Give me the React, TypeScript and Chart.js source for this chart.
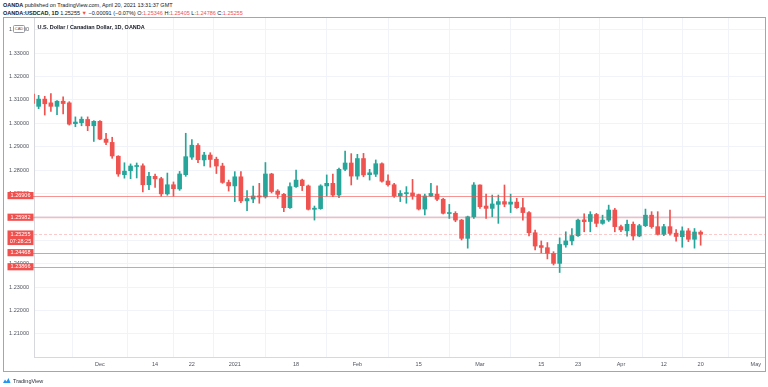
import React, { useEffect, useRef } from 'react';
import { Chart, registerables } from 'chart.js';
Chart.register(...registerables);

const FONT = "'Liberation Sans', Arial, sans-serif";

const dates = [
  '2020-11-16','2020-11-17','2020-11-18','2020-11-19','2020-11-20','2020-11-23','2020-11-24','2020-11-25','2020-11-26','2020-11-27','2020-11-30',
  '2020-12-01','2020-12-02','2020-12-03','2020-12-04','2020-12-07','2020-12-08','2020-12-09','2020-12-10','2020-12-11','2020-12-14','2020-12-15',
  '2020-12-16','2020-12-17','2020-12-18','2020-12-21','2020-12-22','2020-12-23','2020-12-24','2020-12-28','2020-12-29','2020-12-30','2020-12-31',
  '2021-01-04','2021-01-05','2021-01-06','2021-01-07','2021-01-08','2021-01-11','2021-01-12','2021-01-13','2021-01-14','2021-01-15','2021-01-18',
  '2021-01-19','2021-01-20','2021-01-21','2021-01-22','2021-01-25','2021-01-26','2021-01-27','2021-01-28','2021-01-29',
  '2021-02-01','2021-02-02','2021-02-03','2021-02-04','2021-02-05','2021-02-08','2021-02-09','2021-02-10','2021-02-11','2021-02-12',
  '2021-02-15','2021-02-16','2021-02-17','2021-02-18','2021-02-19','2021-02-22','2021-02-23','2021-02-24','2021-02-25','2021-02-26',
  '2021-03-01','2021-03-02','2021-03-03','2021-03-04','2021-03-05','2021-03-08','2021-03-09','2021-03-10','2021-03-11','2021-03-12',
  '2021-03-15','2021-03-16','2021-03-17','2021-03-18','2021-03-19','2021-03-22','2021-03-23','2021-03-24','2021-03-25','2021-03-26',
  '2021-03-29','2021-03-30','2021-03-31',
  '2021-04-01','2021-04-02','2021-04-05','2021-04-06','2021-04-07','2021-04-08','2021-04-09','2021-04-12','2021-04-13','2021-04-14',
  '2021-04-15','2021-04-16','2021-04-19','2021-04-20',
];

const opens = [
  1.3125,1.3072,1.3103,1.3087,1.3072,1.3094,1.3087,1.2998,1.3002,1.3016,1.2989,
  1.3008,1.2932,1.2918,1.2859,1.2780,1.2797,1.2815,1.2818,1.2737,1.2773,1.2763,
  1.2698,1.2737,1.2719,1.2780,1.2855,1.2905,1.2843,1.2864,1.2846,1.2817,1.2747,
  1.2732,1.2771,1.2668,1.2676,1.2689,1.2685,1.2783,1.2710,1.2696,1.2639,1.2729,
  1.2757,1.2732,1.2632,1.2635,1.2732,1.2743,1.2693,1.2803,1.2830,
  1.2774,1.2849,1.2780,1.2782,1.2827,1.2753,1.2737,1.2689,1.2699,1.2702,
  1.2695,1.2633,1.2689,1.2697,1.2675,1.2614,1.2615,1.2586,1.2508,1.2600,
  1.2736,1.2646,1.2636,1.2653,1.2665,1.2654,1.2663,1.2639,1.2618,1.2532,
  1.2477,1.2468,1.2444,1.2401,1.2480,1.2497,1.2519,1.2587,1.2580,1.2610,
  1.2572,1.2586,1.2629,
  1.2558,1.2540,1.2568,1.2518,1.2562,1.2607,1.2558,1.2525,1.2558,1.2530,
  1.2515,1.2540,1.2504,1.25346,
];
const highs = [
  1.3137,1.3119,1.3115,1.3127,1.3097,1.3113,1.3092,1.3027,1.3027,1.3027,1.3011,
  1.3011,1.2957,1.2940,1.2861,1.2831,1.2826,1.2830,1.2826,1.2790,1.2783,1.2769,
  1.2787,1.2749,1.2794,1.2957,1.2930,1.2913,1.2876,1.2874,1.2855,1.2829,1.2757,
  1.2793,1.2793,1.2712,1.2731,1.2743,1.2832,1.2786,1.2716,1.2700,1.2745,1.2800,
  1.2761,1.2736,1.2646,1.2737,1.2779,1.2783,1.2808,1.2881,1.2870,
  1.2867,1.2871,1.2803,1.2843,1.2831,1.2779,1.2743,1.2712,1.2729,1.2760,
  1.2697,1.2697,1.2743,1.2732,1.2679,1.2653,1.2622,1.2589,1.2603,1.2746,
  1.2737,1.2697,1.2693,1.2693,1.2736,1.2697,1.2679,1.2679,1.2622,1.2543,
  1.2497,1.2490,1.2451,1.2510,1.2536,1.2550,1.2590,1.2613,1.2622,1.2615,
  1.2607,1.2650,1.2636,
  1.2565,1.2586,1.2578,1.2568,1.2633,1.2622,1.2622,1.2568,1.2629,1.2545,
  1.2557,1.2550,1.2550,1.25405,
];
const lows = [
  1.3072,1.3062,1.3035,1.3050,1.3036,1.3040,1.2992,1.2985,1.2989,1.2968,1.2922,
  1.2930,1.2908,1.2850,1.2773,1.2765,1.2763,1.2766,1.2706,1.2716,1.2726,1.2688,
  1.2692,1.2688,1.2713,1.2773,1.2845,1.2831,1.2818,1.2812,1.2785,1.2743,1.2710,
  1.2665,1.2660,1.2626,1.2660,1.2658,1.2680,1.2702,1.2679,1.2622,1.2636,1.2726,
  1.2712,1.2629,1.2586,1.2632,1.2689,1.2686,1.2682,1.2797,1.2736,
  1.2760,1.2771,1.2757,1.2772,1.2748,1.2731,1.2683,1.2665,1.2658,1.2675,
  1.2629,1.2608,1.2686,1.2669,1.2612,1.2593,1.2579,1.2501,1.2466,1.2593,
  1.2636,1.2593,1.2600,1.2572,1.2643,1.2618,1.2636,1.2586,1.2518,1.2458,
  1.2446,1.2420,1.2394,1.2362,1.2470,1.2480,1.2516,1.2536,1.2536,1.2558,
  1.2568,1.2580,1.2536,
  1.2536,1.2517,1.2501,1.2515,1.2558,1.2551,1.2522,1.2519,1.2522,1.2496,
  1.2470,1.2494,1.2466,1.24786,
];
const closes = [
  1.3085,1.3103,1.3083,1.3072,1.3094,1.3084,1.2996,1.3005,1.3017,1.2989,1.3008,
  1.2932,1.2918,1.2860,1.2783,1.2795,1.2817,1.2818,1.2737,1.2773,1.2762,1.2698,
  1.2737,1.2720,1.2783,1.2857,1.2906,1.2844,1.2864,1.2845,1.2817,1.2747,1.2732,
  1.2771,1.2668,1.2678,1.2689,1.2685,1.2783,1.2708,1.2696,1.2639,1.2729,1.2757,
  1.2733,1.2632,1.2637,1.2732,1.2743,1.2693,1.2803,1.2830,1.2774,
  1.2849,1.2779,1.2788,1.2827,1.2752,1.2737,1.2689,1.2700,1.2703,1.2690,
  1.2633,1.2689,1.2700,1.2675,1.2615,1.2618,1.2586,1.2508,1.2600,1.2736,
  1.2643,1.2636,1.2655,1.2665,1.2654,1.2663,1.2639,1.2618,1.2532,1.2475,
  1.2469,1.2444,1.2401,1.2482,1.2497,1.2520,1.2586,1.2579,1.2610,1.2572,
  1.2586,1.2629,1.2558,
  1.2544,1.2568,1.2518,1.2562,1.2607,1.2558,1.2525,1.2558,1.2529,1.2516,
  1.2540,1.2504,1.2535,1.25255,
];

const xTickIndex = [11, 20, 26, 33, 43, 53, 63, 73, 83, 89, 96, 103, 109, 118];
const xTickLabels = ['Dec', '14', '22', '2021', '18', 'Feb', '15', 'Mar', '15', '23', 'Apr', '12', '20', 'May'];
const yTicks = [1.21, 1.22, 1.23, 1.24, 1.25, 1.26, 1.27, 1.28, 1.29, 1.3, 1.31, 1.32, 1.33, 1.34];
const levels = [1.26906, 1.25982, 1.24468, 1.23866];
const lastPrice = 1.25255;
const countdown = '07:28:25';

const X_MIN = 0.245;
const X_MAX = 119.5;
const Y_MIN = 1.20009;
const Y_MAX = 1.34496;

const UP = '#26a69a';
const DOWN = '#ef5350';
const TAG = '#f0504e';

const levelsPlugin = {
  id: 'levels',
  afterDatasetsDraw(chart: any) {
    const { ctx, chartArea, scales } = chart;
    const y = scales.y;
    ctx.save();
    const yp = Math.round(y.getPixelForValue(lastPrice)) + 0.5;
    ctx.strokeStyle = 'rgba(240,83,80,0.3)';
    ctx.lineWidth = 1;
    ctx.setLineDash([3, 2]);
    ctx.beginPath();
    ctx.moveTo(chartArea.left, yp);
    ctx.lineTo(chartArea.right, yp);
    ctx.stroke();
    ctx.setLineDash([]);
    levels.forEach((lv, k) => {
      const py = Math.round(y.getPixelForValue(lv)) + 0.5;
      ctx.strokeStyle = k === 1 ? 'rgba(240,83,80,0.4)' : 'rgba(240,83,80,0.62)';
      ctx.lineWidth = k === 1 ? 1.6 : 1;
      ctx.beginPath();
      ctx.moveTo(chartArea.left - 1, py);
      ctx.lineTo(chartArea.right, py);
      ctx.stroke();
    });
    ctx.restore();
  },
  afterDraw(chart: any) {
    const { ctx, scales } = chart;
    const y = scales.y;
    ctx.save();
    ctx.font = `5.5px ${FONT}`;
    ctx.textAlign = 'center';
    ctx.textBaseline = 'middle';
    const bx = 3.5;
    const bw = 26;
    levels.forEach((lv) => {
      const py = y.getPixelForValue(lv);
      ctx.fillStyle = TAG;
      ctx.fillRect(bx, py - 3.6, bw, 7.2);
      ctx.fillStyle = '#ffffff';
      ctx.fillText(lv.toFixed(5), bx + bw / 2, py + 0.2);
    });
    const lp = y.getPixelForValue(lastPrice);
    ctx.fillStyle = TAG;
    ctx.fillRect(bx, lp - 3.8, bw, 14.6);
    ctx.fillStyle = '#ffffff';
    ctx.fillText(lastPrice.toFixed(5), bx + bw / 2, lp + 0.2);
    ctx.fillText(countdown, bx + bw / 2, lp + 7.4);
    ctx.restore();
  },
};

function CandleChart() {
  const ref = useRef<HTMLCanvasElement | null>(null);
  useEffect(() => {
    if (!ref.current) return;
    const colors = closes.map((c, i) => (c >= opens[i] ? UP : DOWN));
    const chart = new Chart(ref.current, {
      type: 'bar',
      data: {
        datasets: [
          {
            label: 'body',
            data: dates.map((_, i) => ({ x: i, y: [opens[i], closes[i]] })) as any,
            backgroundColor: colors,
            borderWidth: 0,
            barThickness: 4,
            minBarLength: 1,
            grouped: false,
            order: 0,
          },
          {
            label: 'wick',
            data: dates.map((_, i) => ({ x: i, y: [lows[i], highs[i]] })) as any,
            backgroundColor: colors,
            borderWidth: 0,
            barThickness: 1,
            grouped: false,
            order: 1,
          },
        ],
      },
      options: {
        animation: false,
        responsive: false,
        maintainAspectRatio: false,
        layout: { padding: 0 },
        plugins: { legend: { display: false }, tooltip: { enabled: false } },
        scales: {
          x: {
            type: 'linear',
            min: X_MIN,
            max: X_MAX,
            offset: false,
            afterBuildTicks: (s: any) => {
              s.ticks = xTickIndex.map((v) => ({ value: v }));
            },
            afterFit: (s: any) => {
              s.height = 14;
              s.paddingLeft = 0;
              s.paddingRight = 0;
            },
            ticks: {
              autoSkip: false,
              maxRotation: 0,
              padding: 4,
              color: '#50535e',
              font: { size: 5.5, family: FONT },
              callback: (v: any) => {
                const k = xTickIndex.indexOf(Number(v));
                return k >= 0 ? xTickLabels[k] : '';
              },
            },
            grid: { color: '#f0f3fa', drawTicks: false },
            border: { color: '#d6d8de' },
          },
          y: {
            type: 'linear',
            position: 'left',
            min: Y_MIN,
            max: Y_MAX,
            afterBuildTicks: (s: any) => {
              s.ticks = yTicks.map((v) => ({ value: v }));
            },
            afterFit: (s: any) => {
              s.width = 30;
              s.paddingTop = 0;
              s.paddingBottom = 0;
            },
            ticks: {
              padding: 5,
              color: '#50535e',
              font: { size: 5.5, family: FONT },
              callback: (v: any) => Number(v).toFixed(5),
            },
            grid: { color: '#f0f3fa', drawTicks: false },
            border: { color: '#d6d8de' },
          },
        },
      } as any,
      plugins: [levelsPlugin],
    });
    return () => chart.destroy();
  }, []);
  return (
    <canvas
      ref={ref}
      width={761}
      height={353}
      style={{ position: 'absolute', left: 4, top: 18, width: 761, height: 353 }}
    />
  );
}

export default function App() {
  const red = { color: '#ef5350' };
  return (
    <div
      style={{
        position: 'fixed',
        left: 0,
        top: 0,
        width: 768,
        height: 387,
        background: '#ffffff',
        overflow: 'hidden',
        fontFamily: FONT,
        color: '#131722',
      }}
    >
      <div style={{ position: 'absolute', left: 3, top: 2, fontSize: 5.5, lineHeight: '7px', whiteSpace: 'nowrap' }}>
        <b>OANDA</b> published on TradingView.com, April 20, 2021 13:31:37 GMT
      </div>
      <div style={{ position: 'absolute', left: 3, top: 9.8, fontSize: 5.5, lineHeight: '7px', whiteSpace: 'nowrap' }}>
        <b>OANDA:USDCAD, 1D</b> 1.25255 <span style={red}>▼</span> −0.00091 (−0.07%) O:<span style={red}>1.25346</span> H:
        <span style={red}>1.25405</span> L:<span style={red}>1.24786</span> C:<span style={red}>1.25255</span>
      </div>
      <div
        style={{
          position: 'absolute',
          left: 3,
          top: 17,
          width: 761,
          height: 353,
          border: '1px solid #a3a6af',
        }}
      />
      <CandleChart />
      <div
        style={{
          position: 'absolute',
          left: 37.5,
          top: 24,
          fontSize: 5.5,
          fontWeight: 'bold',
          lineHeight: '7px',
          whiteSpace: 'nowrap',
        }}
      >
        U.S. Dollar / Canadian Dollar, 1D, OANDA
      </div>
      <div
        style={{
          position: 'absolute',
          left: 13,
          top: 25,
          width: 10,
          height: 6,
          border: '0.6px solid #9598a1',
          borderRadius: 1.5,
          background: '#ffffff',
          fontSize: 4,
          lineHeight: '6px',
          textAlign: 'center',
          color: '#50535e',
        }}
      >
        CAD
      </div>
      <div style={{ position: 'absolute', left: 2, top: 377, display: 'flex', alignItems: 'center' }}>
        <svg width="9" height="7" viewBox="0 0 18 14">
          <path d="M2 12 L6 5 L9 9 L13 2 L17 12 Z" fill="#2196f3" />
        </svg>
        <span style={{ fontSize: 5.5, marginLeft: 2, color: '#2a2e39' }}>TradingView</span>
      </div>
    </div>
  );
}
